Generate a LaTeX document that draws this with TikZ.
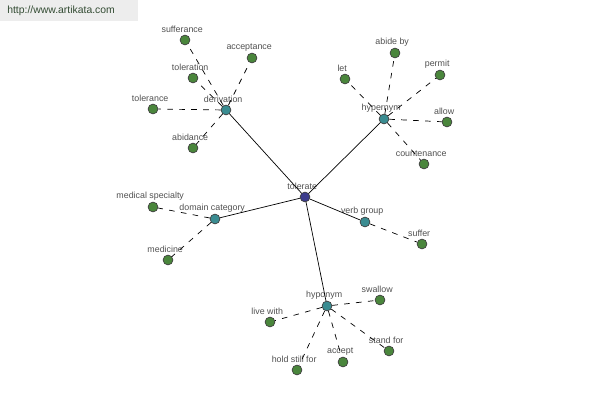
\documentclass[tikz,border=0pt]{standalone}
\usepackage{fontspec}
\setmainfont{Liberation Sans}
\usepackage{xcolor}
\usetikzlibrary{arrows.meta}
\definecolor{leafgreen}{RGB}{74,134,60}
\definecolor{reltal}{RGB}{58,140,145}
\definecolor{rootblue}{RGB}{60,60,140}
\definecolor{txtgray}{RGB}{80,80,80}
\definecolor{urlgreen}{RGB}{50,75,50}

\tikzset{
dot/.style={circle,draw=black!75,line width=0.5pt,inner sep=0pt,minimum size=7pt},
leaf/.style={dot,fill=leafgreen},
rel/.style={dot,fill=reltal},
root/.style={dot,fill=rootblue},
lbl/.style={text=txtgray,font=\fontsize{6.3}{7}\selectfont,inner sep=1pt,xshift=-2pt},
strong/.style={line width=0.5pt},
weak/.style={line width=0.5pt,dash pattern=on 4pt off 4.5pt}
}

\begin{document}
\begin{tikzpicture}[x=0.025cm,y=-0.025cm]
\useasboundingbox(0,0)rectangle(600,400);
\fill[black!7](0,0)rectangle(138,21);
\node[anchor=west,text=urlgreen,font=\fontsize{7.4}{8}\selectfont,inner sep=0pt](url)at(7,11){http://www.artikata.com};
% centre
\node[root,label={[lbl]90:tolerate}](tol)at(305,197){};
% derivation
\node[rel,label={[lbl]90:derivation}](der)at(226,110){};
\node[leaf,label={[lbl]90:sufferance}](suf)at(185,40){};
\node[leaf,label={[lbl]90:acceptance}](acc)at(252,58){};
\node[leaf,label={[lbl]90:toleration}](tln)at(193,78){};
\node[leaf,label={[lbl]90:tolerance}](tlc)at(153,109){};
\node[leaf,label={[lbl]90:abidance}](abd)at(193,148){};
% hypernym
\node[rel,label={[lbl]90:hypernym}](hyp)at(384,119){};
\node[leaf,label={[lbl]90:abide by}](abb)at(395,53){};
\node[leaf,label={[lbl]90:let}](let)at(345,79){};
\node[leaf,label={[lbl]90:permit}](per)at(440,75){};
\node[leaf,label={[lbl]90:allow}](alw)at(447,122){};
\node[leaf,label={[lbl]90:countenance}](cnt)at(424,164){};
% domain category
\node[rel,label={[lbl]90:domain category}](dom)at(215,219){};
\node[leaf,label={[lbl]90:medical specialty}](msp)at(153,207){};
\node[leaf,label={[lbl]90:medicine}](med)at(168,260){};
% verb group
\node[rel,label={[lbl]90:verb group}](vgr)at(365,222){};
\node[leaf,label={[lbl]90:suffer}](sfr)at(422,244){};
% hyponym
\node[rel,label={[lbl]90:hyponym}](hpo)at(327,306){};
\node[leaf,label={[lbl]90:swallow}](swl)at(380,300){};
\node[leaf,label={[lbl]90:live with}](lvw)at(270,322){};
\node[leaf,label={[lbl]90:hold still for}](hsf)at(297,370){};
\node[leaf,label={[lbl]90:accept}](acp)at(343,362){};
\node[leaf,label={[lbl]90:stand for}](stf)at(389,351){};
% links
\foreach \r in {der,hyp,dom,vgr,hpo}
  \draw[strong](tol)--(\r);
\foreach \a/\b in {der/suf,der/acc,der/tln,der/tlc,der/abd,
  hyp/abb,hyp/let,hyp/per,hyp/alw,hyp/cnt,dom/msp,dom/med,vgr/sfr,
  hpo/swl,hpo/lvw,hpo/hsf,hpo/acp,hpo/stf}
  \draw[weak](\a)--(\b);
\end{tikzpicture}
\end{document}
